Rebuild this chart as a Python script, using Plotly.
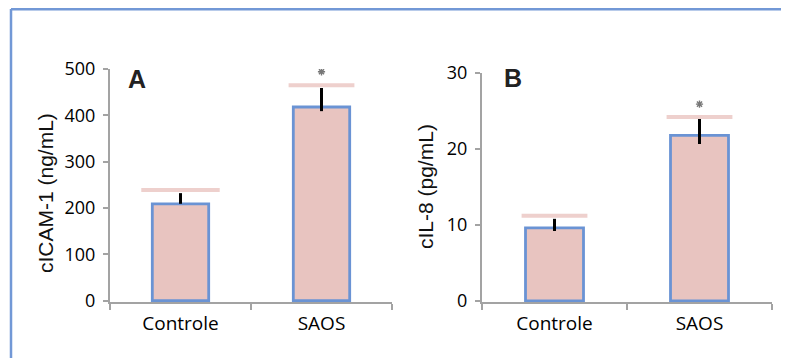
import plotly.graph_objects as go

categories = ["Controle", "SAOS"]

# Panel A: cICAM-1 (ng/mL)
a_values = [209, 418]
a_err_plus = [23, 41]
a_err_minus = [0, 9]
a_cap = [239, 465]
a_star = [None, 494]

# Panel B: cIL-8 (pg/mL)
b_values = [9.6, 21.8]
b_err_plus = [1.2, 2.15]
b_err_minus = [0.4, 1.15]
b_cap = [11.2, 24.2]
b_star = [None, 25.9]

a_ticks = [0, 100, 200, 300, 400, 500]
b_ticks = [0, 10, 20, 30]

# page origin of the figure is offset by the body margin (8px)
OFF = 8
W, H = 789, 358
FILL = "#E8C4C0"
EDGE = "#6A93D4"
CAP = "#E8BDB8"
AXIS = "#A3A3A3"
FRAME = "#7298D6"


def px(X):
    return (X - OFF) / W


def py(Y):
    return 1 - (Y - OFF) / H


fig = go.Figure()


def add_panel(vals, ep, em, cap, cap_sizes, star, xa, ya):
    fig.add_trace(go.Bar(
        x=categories, y=vals, width=0.4,
        marker=dict(color=FILL, line=dict(color=EDGE, width=2.8)),
        error_y=dict(type="data", symmetric=False, array=ep, arrayminus=em,
                     color="black", thickness=3, width=0),
        xaxis=xa, yaxis=ya, showlegend=False))
    fig.add_trace(go.Scatter(
        x=categories, y=cap, mode="markers",
        marker=dict(symbol="line-ew", size=cap_sizes, color=CAP,
                    line=dict(color=CAP, width=4)),
        xaxis=xa, yaxis=ya, showlegend=False, hoverinfo="skip"))
    fig.add_trace(go.Scatter(
        x=categories, y=star, mode="markers",
        marker=dict(symbol="asterisk-open", size=6, color="#777777",
                    line=dict(color="#777777", width=1.4)),
        xaxis=xa, yaxis=ya, showlegend=False, hoverinfo="skip"))


add_panel(a_values, a_err_plus, a_err_minus, a_cap, [56, 47], a_star, "x", "y")
add_panel(b_values, b_err_plus, b_err_minus, b_cap, [47, 47], b_star, "x2", "y2")

xcommon = dict(type="category", range=[-0.5, 1.5], showline=True, linecolor=AXIS,
               linewidth=2, ticks="outside", tickson="boundaries", tickcolor=AXIS,
               ticklen=6, tickwidth=1.5, showgrid=False, zeroline=False,
               ticklabelstandoff=3, automargin=False,
               tickfont=dict(family="Open Sans", size=19, color="#000"))
ycommon = dict(showline=True, linecolor=AXIS, linewidth=2, ticks="outside",
               tickcolor=AXIS, ticklen=5, tickwidth=1.5, showgrid=False, zeroline=False,
               ticklabelstandoff=4, automargin=False,
               tickfont=dict(family="Open Sans", size=18, color="#000"))

fig.update_layout(
    width=W, height=H, margin=dict(l=0, r=0, t=0, b=0, pad=0),
    paper_bgcolor="white", plot_bgcolor="white",
    xaxis=dict(domain=[px(110), px(392)], anchor="y", **xcommon),
    yaxis=dict(domain=[py(302), py(69)], anchor="x",
               range=[-3, 500], tickvals=a_ticks, **ycommon),
    xaxis2=dict(domain=[px(482), px(772)], anchor="y2", **xcommon),
    yaxis2=dict(domain=[py(302), py(73)], anchor="x2",
                range=[-0.15, 30], tickvals=b_ticks, **ycommon),
)

ann = dict(xref="paper", yref="paper", showarrow=False,
           xanchor="center", yanchor="middle")
fig.add_annotation(text="cICAM-1 (ng/mL)", textangle=-90, x=px(45), y=py(193),
                   font=dict(family="Liberation Sans", size=21, color="#111"), **ann)
fig.add_annotation(text="cIL-8 (pg/mL)", textangle=-90, x=px(425), y=py(187),
                   font=dict(family="Liberation Sans", size=21, color="#111"), **ann)
fig.add_annotation(text="<b>A</b>", x=px(137), y=py(79),
                   font=dict(family="Liberation Sans", size=25, color="#222"), **ann)
fig.add_annotation(text="<b>B</b>", x=px(513), y=py(78),
                   font=dict(family="Liberation Sans", size=25, color="#222"), **ann)

# outer frame (left and top edges)
fig.add_shape(type="line", xref="paper", yref="paper", x0=px(11), x1=1.0,
              y0=py(9), y1=py(9), line=dict(color=FRAME, width=3))
fig.add_shape(type="line", xref="paper", yref="paper", x0=px(11), x1=px(11),
              y0=0, y1=py(9), line=dict(color=FRAME, width=2.5))

fig.write_html("out.html")
